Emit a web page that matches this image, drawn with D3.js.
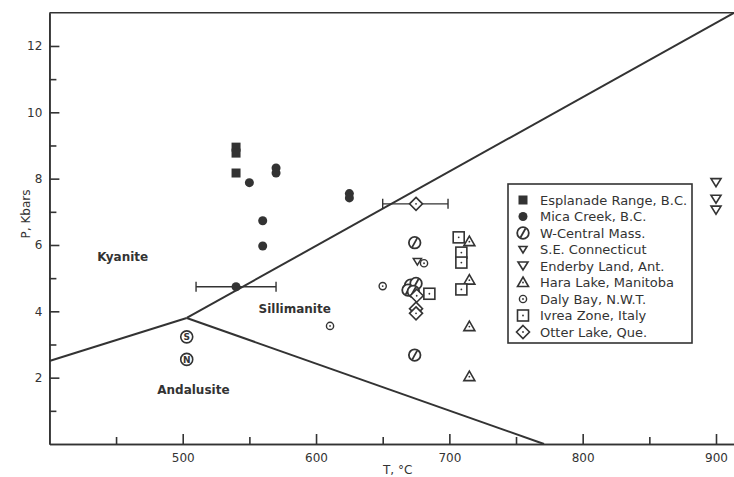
<!DOCTYPE html>
<html>
<head>
<meta charset="utf-8">
<script src="https://cdn.jsdelivr.net/npm/d3@7"></script>
<style>
  body { margin: 0; background: #fff; }
  svg text { font-family: "DejaVu Sans", sans-serif; fill: #333; }
</style>
</head>
<body>
<svg id="chart" width="734" height="477"></svg>
<script>
// P-T data, [T in °C, P in kbar]
var esplanade = [[540, 8.95], [540, 8.77], [540, 8.17]];
var micaCreek = [[550, 7.88], [560, 6.73], [560, 5.97], [540, 4.74], [570, 8.32], [570, 8.17], [625, 7.55], [625, 7.42]];
var wCentral = [[674, 6.07], [674, 2.68], [671, 4.79], [675, 4.84], [669, 4.64], [673, 4.6]];
var seConn = [[676, 5.5]];
var enderby = [[900, 7.88], [900, 7.38], [900, 7.05]];
var haraLake = [[715, 6.1], [715, 4.94], [715, 3.54], [715, 2.03]];
var dalyBay = [[610.5, 3.56], [650, 4.76], [681, 5.45]];
var ivrea = [[685, 4.53], [707, 6.23], [709, 5.77], [709, 5.47], [709, 4.66]];
var otterLake = [[675, 7.24], [675.5, 4.47], [675, 4.08], [675, 3.94]];
var lettered = [[503, 3.23, "S"], [503, 2.55, "N"]];

// error bars: [T, P, Tlow, Thigh]
var errorBars = [[540, 4.74, 510, 570], [675, 7.24, 650, 699]];

// phase boundaries
var kyAnd = [[400, 2.5], [503, 3.8]];
var kySil = [[503, 3.8], [913.5, 13]];
var andSil = [[503, 3.8], [771, 0]];

var fields = [["Kyanite", 455, 5.53], ["Sillimanite", 584, 3.96], ["Andalusite", 508, 1.52]];

var legendNames = ["Esplanade Range, B.C.", "Mica Creek, B.C.", "W-Central Mass.", "S.E. Connecticut",
  "Enderby Land, Ant.", "Hara Lake, Manitoba", "Daly Bay, N.W.T.", "Ivrea Zone, Italy", "Otter Lake, Que."];

var xMajor = [500, 600, 700, 800, 900];
var xMinor = [450, 550, 650, 750, 850];
var yMajor = [2, 4, 6, 8, 10, 12];
var yMinor = [1, 3, 5, 7, 9, 11];

var svg = d3.select("#chart");
var ink = "#333";

var x = d3.scaleLinear().domain([400, 913.5]).range([49.4, 734]);
var y = d3.scaleLinear().domain([0, 13]).range([444, 12.8]);

// axes
svg.append("g").attr("transform", "translate(0,444)")
  .call(d3.axisBottom(x).tickValues(xMinor).tickSize(-7).tickSizeOuter(0).tickFormat(""));
svg.append("g").attr("transform", "translate(0,444)")
  .call(d3.axisBottom(x).tickValues(xMajor).tickSize(-10).tickSizeOuter(0).tickPadding(9));
svg.append("g").attr("transform", "translate(49.4,0)")
  .call(d3.axisLeft(y).tickValues(yMinor).tickSize(-7).tickSizeOuter(0).tickFormat(""));
svg.append("g").attr("transform", "translate(49.4,0)")
  .call(d3.axisLeft(y).tickValues(yMajor).tickSize(-10).tickSizeOuter(0).tickPadding(7));

svg.selectAll(".domain, .tick line").attr("stroke", ink).attr("stroke-width", 1.6);
svg.selectAll(".tick text").style("font-size", "12px").attr("fill", ink);

// top frame line
svg.append("line").attr("x1", x(400)).attr("x2", 734).attr("y1", y(13)).attr("y2", y(13))
  .attr("stroke", ink).attr("stroke-width", 1.6);

svg.append("text").attr("x", 383).attr("y", 474).style("font-size", "12px").text("T, °C");
svg.append("text").attr("transform", "translate(30,214) rotate(-90)")
  .attr("text-anchor", "middle").style("font-size", "12px").text("P, Kbars");

// phase boundaries
var line = d3.line().x(function(d){ return x(d[0]); }).y(function(d){ return y(d[1]); });
[kyAnd, kySil, andSil].forEach(function(b){
  svg.append("path").attr("d", line(b)).attr("fill", "none")
    .attr("stroke", ink).attr("stroke-width", 2);
});

svg.selectAll(".field").data(fields).enter().append("text")
  .attr("x", function(d){ return x(d[1]); })
  .attr("y", function(d){ return y(d[2]); })
  .attr("text-anchor", "middle")
  .style("font-size", "12px").style("font-weight", "bold")
  .text(function(d){ return d[0]; });

// error bars
errorBars.forEach(function(e){
  var g = svg.append("g").attr("stroke", ink).attr("stroke-width", 1.4);
  g.append("line").attr("x1", x(e[2])).attr("x2", x(e[3])).attr("y1", y(e[1])).attr("y2", y(e[1]));
  g.append("line").attr("x1", x(e[2])).attr("x2", x(e[2])).attr("y1", y(e[1]) - 5).attr("y2", y(e[1]) + 5);
  g.append("line").attr("x1", x(e[3])).attr("x2", x(e[3])).attr("y1", y(e[1]) - 5).attr("y2", y(e[1]) + 5);
});

// marker drawing functions
function dot(g) {
  g.append("circle").attr("r", 0.9).attr("fill", ink);
}
var markers = [
  function(g){ g.append("rect").attr("x", -4.5).attr("y", -4.5).attr("width", 9).attr("height", 9).attr("fill", ink); },
  function(g){ g.append("circle").attr("r", 4.5).attr("fill", ink); },
  function(g){
    g.append("circle").attr("r", 5.8).attr("fill", "#fff").attr("stroke", ink).attr("stroke-width", 1.8);
    g.append("line").attr("x1", -2.5).attr("y1", 4.5).attr("x2", 2.5).attr("y2", -4.5).attr("stroke", ink).attr("stroke-width", 1.8);
  },
  function(g){ g.append("path").attr("d", "M-4,-3L4,-3L0,3.5Z").attr("fill", "#fff").attr("stroke", ink).attr("stroke-width", 1.6); },
  function(g){ g.append("path").attr("d", "M-5,-4L5,-4L0,4Z").attr("fill", "#fff").attr("stroke", ink).attr("stroke-width", 1.6); },
  function(g){ g.append("path").attr("d", "M0,-5.5L5.5,4L-5.5,4Z").attr("fill", "#fff").attr("stroke", ink).attr("stroke-width", 1.6); dot(g); },
  function(g){ g.append("circle").attr("r", 3.6).attr("fill", "#fff").attr("stroke", ink).attr("stroke-width", 1.4); dot(g); },
  function(g){ g.append("rect").attr("x", -5.5).attr("y", -5.5).attr("width", 11).attr("height", 11).attr("fill", "#fff").attr("stroke", ink).attr("stroke-width", 1.6); dot(g); },
  function(g){ g.append("path").attr("d", "M0,-6.5L6.5,0L0,6.5L-6.5,0Z").attr("fill", "#fff").attr("stroke", ink).attr("stroke-width", 1.6); dot(g); }
];
var seriesData = [esplanade, micaCreek, wCentral, seConn, enderby, haraLake, dalyBay, ivrea, otterLake];

seriesData.forEach(function(data, i){
  svg.append("g").selectAll("g").data(data).enter().append("g")
    .attr("transform", function(d){ return "translate(" + x(d[0]) + "," + y(d[1]) + ")"; })
    .each(function(){ markers[i](d3.select(this)); });
});

// lettered circles in the andalusite field
var lg = svg.append("g").selectAll("g").data(lettered).enter().append("g")
  .attr("transform", function(d){ return "translate(" + x(d[0]) + "," + y(d[1]) + ")"; });
lg.append("circle").attr("r", 6).attr("fill", "#fff").attr("stroke", ink).attr("stroke-width", 1.6);
lg.append("text").attr("text-anchor", "middle").attr("dy", "0.35em")
  .style("font-size", "9px").style("font-weight", "bold").text(function(d){ return d[2]; });

// legend
var legend = svg.append("g");
legend.append("rect").attr("x", 508).attr("y", 184).attr("width", 184).attr("height", 159)
  .attr("fill", "#fff").attr("stroke", ink).attr("stroke-width", 1.6);
legendNames.forEach(function(name, i){
  var row = legend.append("g").attr("transform", "translate(523," + (200 + i * 16.5) + ")");
  markers[i](row);
  row.append("text").attr("x", 17).attr("dy", "0.36em").style("font-size", "13px").text(name);
});
</script>
</body>
</html>
